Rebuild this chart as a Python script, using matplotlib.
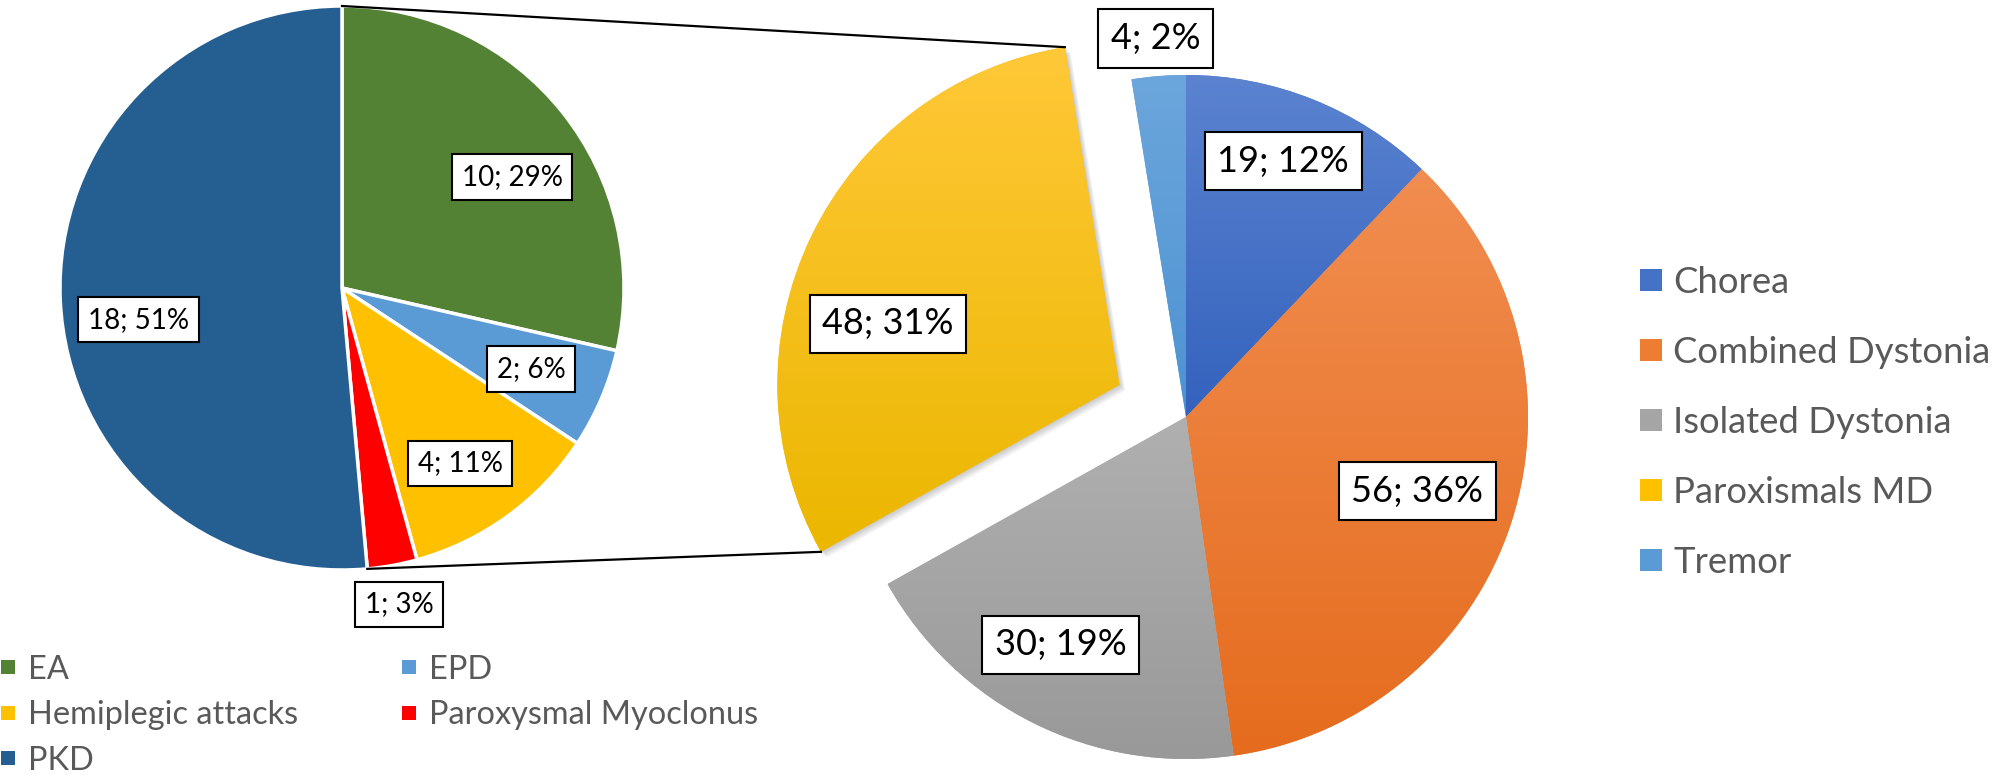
import numpy as np
import matplotlib.pyplot as plt
from matplotlib.patches import Wedge, Rectangle
from matplotlib.colors import to_rgb

plt.rcParams['font.family'] = ['Lato', 'DejaVu Sans']

# left pie: paroxysmal movement disorders
left_labels = ["EA", "EPD", "Hemiplegic attacks", "Paroxysmal Myoclonus", "PKD"]
left_values = [10, 2, 4, 1, 18]
left_pct = [29, 6, 11, 3, 51]
left_colors = ["#548235", "#5B9BD5", "#FFC000", "#FF0000", "#255E91"]

# right pie: all movement disorders
right_labels = ["Chorea", "Combined Dystonia", "Isolated Dystonia", "Paroxismals MD", "Tremor"]
right_values = [19, 56, 30, 48, 4]
right_pct = [12, 36, 19, 31, 2]
right_colors = ["#4472C4", "#ED7D31", "#A5A5A5", "#FFC000", "#5B9BD5"]
right_top = ["#5B83D0", "#F18D50", "#B0B0B0", "#FFC838", "#6CA6DC"]
right_bot = ["#3462BD", "#E56C1E", "#999999", "#EBB700", "#4C92D2"]

# label placement (fraction of radius, angle nudge in degrees)
left_dist = [0.72, 0.73, 0.75, 1.14, 0.73]
left_nudge = [-5.5, 0, -2, 0, 6.3]
right_dist = [0.80, 0.71, 0.76, 0.70, 1.11]
right_nudge = [1, 0, -2.4, 11, 0]

fig = plt.figure(figsize=(20, 7.8), dpi=100)
ax = fig.add_axes([0, 0, 1, 1])
renderer = fig.canvas.get_renderer()

wl, _ = ax.pie(left_values, colors=left_colors, startangle=90, counterclock=False,
               center=(342, 492), radius=282, frame=True,
               wedgeprops=dict(edgecolor="white", linewidth=2.5))

wr, _ = ax.pie(right_values, colors=right_colors, startangle=90, counterclock=False,
               center=(1186, 363), radius=342, frame=True,
               explode=[0, 0, 0, 74, 0], wedgeprops=dict(linewidth=0))


# soft shadow under the pulled-out slice
yw = wr[3]
for k in range(1, 7):
    sh = Wedge((yw.center[0] + k, yw.center[1] - k), yw.r, yw.theta1, yw.theta2,
               facecolor="black", alpha=0.035, linewidth=0, zorder=0.5)
    ax.add_patch(sh)


def fill_gradient(w, c_top, c_bot):
    ext = w.get_path().get_extents()
    t = np.linspace(0, 1, 256)[:, None]
    img = (1 - t) * np.array(to_rgb(c_top)) + t * np.array(to_rgb(c_bot))
    im = ax.imshow(img[:, None, :], extent=[ext.x0, ext.x1, ext.y0, ext.y1],
                   origin="upper", aspect="auto", interpolation="bilinear", zorder=1.1)
    im.set_clip_path(w)


for w, ct, cb in zip(wr, right_top, right_bot):
    fill_gradient(w, ct, cb)


def add_labels(wedges, values, pcts, dist, nudge, size):
    for w, v, p, d, n in zip(wedges, values, pcts, dist, nudge):
        ang = np.deg2rad((w.theta1 + w.theta2) / 2 + n)
        x = w.center[0] + d * w.r * np.cos(ang)
        y = w.center[1] + d * w.r * np.sin(ang)
        ax.text(x, y, f"{v}; {p}%", ha="center", va="center", fontsize=size, zorder=5,
                bbox=dict(boxstyle="square,pad=0.35", fc="white", ec="black", lw=1.5))


add_labels(wl, left_values, left_pct, left_dist, left_nudge, 20)
add_labels(wr, right_values, right_pct, right_dist, right_nudge, 26)


def edge_point(w, theta):
    a = np.deg2rad(theta)
    return w.center[0] + w.r * np.cos(a), w.center[1] + w.r * np.sin(a)


# connector lines between the two pies
p1 = edge_point(wl[0], wl[0].theta2)
p2 = edge_point(yw, yw.theta1)
p3 = edge_point(wl[4], wl[4].theta2)
p4 = edge_point(yw, yw.theta2)
ax.plot([p1[0], p2[0]], [p1[1], p2[1]], color="black", lw=1.6, zorder=3)
ax.plot([p3[0], p4[0]], [p3[1], p4[1]], color="black", lw=1.6, zorder=3)


def fit_size(s, width_px, ref=20):
    t = ax.text(0, 0, s, fontsize=ref)
    w = t.get_window_extent(renderer).width
    t.remove()
    return ref * width_px / w


def draw_legend(labels, colors, xs, ys, box, gap, size):
    cap = 0.36 * size * 100 / 72  # half cap height in px
    for lab, col, x, y in zip(labels, colors, xs, ys):
        ax.add_patch(Rectangle((x, y - box / 2), box, box, facecolor=col, lw=0, zorder=4))
        ax.text(x + box + gap, y - cap, lab, fontsize=size, color="#595959",
                ha="left", va="baseline", zorder=4)


# legend of the right pie: one column at the right edge
n = len(right_labels)
size_r = fit_size("Combined Dystonia", 318)
draw_legend(right_labels, right_colors, [1640] * n,
            [780 - (280 + 70 * i) for i in range(n)], 22, 11, size_r)

# legend of the left pie: two columns, filled row by row
size_l = fit_size("Hemiplegic attacks", 270)
draw_legend(left_labels, left_colors, [[1, 402][i % 2] for i in range(len(left_labels))],
            [780 - (667 + 45.5 * (i // 2)) for i in range(len(left_labels))], 14, 13, size_l)

ax.set_xlim(0, 2000)
ax.set_ylim(0, 780)
ax.set_aspect("equal")
ax.axis("off")

fig.savefig("out.png", dpi=100)
